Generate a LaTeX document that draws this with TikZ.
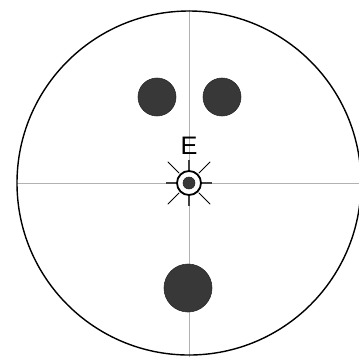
\documentclass[tikz,border=0pt]{standalone}
\usepackage{fontspec}
\setsansfont{Liberation Sans}
\usetikzlibrary{positioning,calc}
\tikzset{
  axisline/.style={draw=gray!60, line width=0.5pt},
  raystyle/.style={draw=black, line width=0.55pt, line cap=round},
  ticksty/.style={draw=black!75, line width=1.1pt}
}
\begin{document}
\begin{tikzpicture}[
  x=0.025cm, y=-0.025cm,
  blob/.style={circle, fill=black!78, draw=black!85, line width=0.4pt, inner sep=0pt},
  ring/.style={circle, fill=white, draw=black, line width=1.3pt, inner sep=0pt, minimum size=0.6cm},
  label/.style={font=\sffamily\fontsize{18}{18}\selectfont, inner sep=0pt}
]
\useasboundingbox (0,0) rectangle (359,357);
\fill[white] (0,0) rectangle (359,357);

\coordinate (c) at (189,183);
\draw[axisline] (17,183) -- (361,183);
\draw[axisline] (189,10) -- (189,357);
\draw[black, line width=1pt] (c) circle[radius=172];

\node[blob, minimum size=0.95cm] (dotL) at (157,97) {};
\node[blob, minimum size=0.95cm] (dotR) at (222,97) {};
\node[blob, minimum size=1.2cm] (dotB) at (188,288) {};

% eye marker
\foreach \a in {0,90,180,270}
  \draw[ticksty] ($(c)+(\a:12)$) -- ($(c)+(\a:23)$);
\foreach \a in {45,135,225,315}
  \draw[raystyle] ($(c)+(\a:14)$) -- ($(c)+(\a:30)$);
\node[ring] (eye) at (c) {};
\node[blob, minimum size=0.3cm] (pupil) at (c) {};
\node[label] (E) at (189,146) {E};
\end{tikzpicture}
\end{document}
